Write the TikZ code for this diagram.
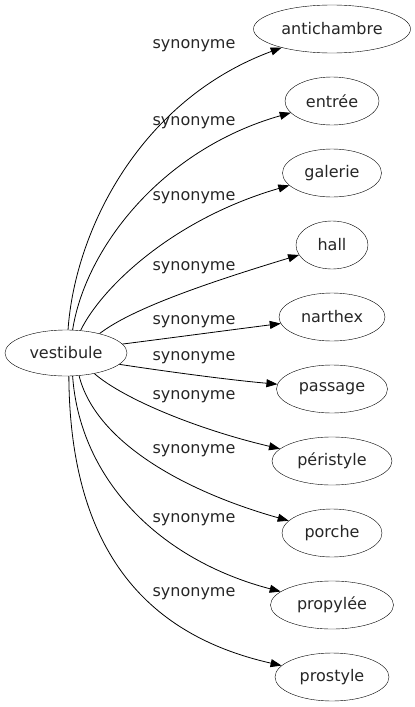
\documentclass[tikz,border=0pt]{standalone}
\usepackage{fontspec}
\setmainfont{DejaVu Sans}
\usetikzlibrary{shapes.geometric,arrows.meta}
\begin{document}
\begin{tikzpicture}[x=1pt,y=-1pt,
  term/.style={draw,ellipse,inner sep=0pt,minimum height=48pt,font=\fontsize{16}{17}\selectfont,text=black!85},
  rel/.style={font=\fontsize{16}{17}\selectfont,text=black!85,inner sep=0pt},
  link/.style={draw,line width=0.8pt,-{Triangle[length=11pt,width=8pt]}}]
\useasboundingbox (0,0) rectangle (415,707);
\node[term,minimum width=122pt,minimum height=46pt] (v) at (66,353) {vestibule};
\node[term,minimum width=157pt] (n1) at (332,29) {antichambre};
\node[term,minimum width=94pt] (n2) at (332,101) {entrée};
\node[term,minimum width=99pt] (n3) at (332,173) {galerie};
\node[term,minimum width=72pt] (n4) at (332,245) {hall};
\node[term,minimum width=106pt] (n5) at (332,317) {narthex};
\node[term,minimum width=111pt] (n6) at (332,389) {passage};
\node[term,minimum width=120pt] (n7) at (332,461) {péristyle};
\node[term,minimum width=100pt] (n8) at (332,533) {porche};
\node[term,minimum width=123pt] (n9) at (332,605) {propylée};
\node[term,minimum width=114pt] (n10) at (332,677) {prostyle};
\node[rel] (l1) at (194,46) {synonyme};
\node[rel] (l2) at (194,123) {synonyme};
\node[rel] (l3) at (194,198) {synonyme};
\node[rel] (l4) at (194,268) {synonyme};
\node[rel] (l5) at (194,322) {synonyme};
\node[rel] (l6) at (194,358) {synonyme};
\node[rel] (l7) at (194,397) {synonyme};
\node[rel] (l8) at (194,451) {synonyme};
\node[rel] (l9) at (194,520) {synonyme};
\node[rel] (l10) at (194,594) {synonyme};
\draw[link] (v.85) .. controls (75,230) and (140,100) .. (n1);
\draw[link] (v.74) .. controls (85,250) and (160,150) .. (n2);
\draw[link] (v.57) .. controls (100,290) and (170,220) .. (n3);
\draw[link] (v.30) .. controls (130,310) and (200,285) .. (n4);
\draw[link] (v.9) .. controls (170,338) and (230,330) .. (n5);
\draw[link] (v.-12) .. controls (170,372) and (230,380) .. (n6);
\draw[link] (v.-36) .. controls (125,400) and (200,430) .. (n7);
\draw[link] (v.-60) .. controls (95,440) and (180,490) .. (n8);
\draw[link] (v.-74) .. controls (80,480) and (160,560) .. (n9);
\draw[link] (v.-83) .. controls (70,565) and (160,638) .. (n10);
\end{tikzpicture}
\end{document}
